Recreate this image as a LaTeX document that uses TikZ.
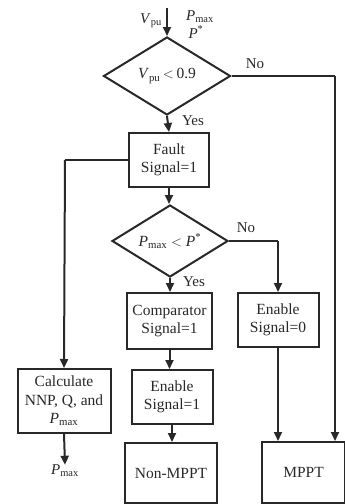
\documentclass[tikz,border=0pt]{standalone}
\usepackage{fontspec}
\setmainfont{Liberation Serif}
\usetikzlibrary{shapes.geometric,arrows.meta}
\definecolor{ink}{RGB}{40,40,40}
\tikzset{
  lin/.style={draw=ink, line width=2pt},
  arr/.style={lin, -{Triangle[length=9pt,width=8pt]}},
  box/.style={draw=ink, line width=2pt, rectangle, inner sep=0pt, align=center, text=ink,
    font=\fontsize{15.5}{18.5}\selectfont},
  dia/.style={draw=ink, line width=2pt, diamond, inner sep=0pt, aspect=1.6, text=ink,
    font=\fontsize{15.5}{18}\selectfont},
  lab/.style={text=ink, inner sep=0pt, font=\fontsize{15}{17}\selectfont}
}
\begin{document}
\begin{tikzpicture}[x=1pt,y=-1pt]
\useasboundingbox (0,0) rectangle (345,504);
\clip (0,0) rectangle (345,504);
% nodes
\coordinate (in) at (167,8);
\node[lab, anchor=east] (vpu) at (162,21) {\textit{V}\textsubscript{pu}};
\node[lab] (pmaxin) at (200,17) {\textit{P}\textsubscript{max}};
\node[lab] (pstar) at (196,32) {\textit{P}\textsuperscript{*}};
\node[dia, minimum width=127pt, minimum height=78pt] (d1) at (167,76) {\textit{V}\textsubscript{pu}\,$<$\,0.9};
\node[box, minimum width=80pt, minimum height=54pt] (fault) at (169,160) {Fault\\Signal=1};
\node[dia, minimum width=116pt, minimum height=72pt] (d2) at (170,241) {\textit{P}\textsubscript{max} $<$ \textit{P}\textsuperscript{*}};
\node[box, minimum width=85pt, minimum height=56pt] (comp) at (169.5,321) {Comparator\\Signal=1};
\node[box, minimum width=81pt, minimum height=54pt] (en0) at (278,320) {Enable\\Signal=0};
\node[box, minimum width=81pt, minimum height=54pt] (en1) at (172,397) {Enable\\Signal=1};
\node[box, minimum width=93pt, minimum height=64pt] (calc) at (64,401) {Calculate\\NNP, Q, and\\\textit{P}\textsubscript{max}};
\node[lab] (pmaxout) at (65,471) {\textit{P}\textsubscript{max}};
\node[box, minimum width=92pt, minimum height=60pt] (nonmppt) at (171,473) {Non-MPPT};
\node[box, minimum width=83pt, minimum height=61pt] (mppt) at (303.5,472.5) {MPPT};
% helper coordinates
\coordinate (c1) at (335,76);
\coordinate (c2) at (65,160);
\coordinate (c3) at (278,241);
% connectors
\draw[arr] (in) -- (d1.north);
\draw[arr] (d1.south) -- (fault.north);
\draw[lin] (d1.east) -- (c1);
\draw[arr] (c1) -- (c1 |- mppt.north);
\draw[lin] (fault.west) -- (c2);
\draw[arr] (c2) -- (calc.north);
\draw[arr] (calc.south) -- (pmaxout.north);
\draw[arr] (fault.south) -- (fault.south |- d2.north);
\draw[lin] (d2.east) -- (c3);
\draw[arr] (c3) -- (en0.north);
\draw[arr] (d2.south) -- (d2.south |- comp.north);
\draw[arr] (comp.south) -- (comp.south |- en1.north);
\draw[arr] (en1.south) -- (en1.south |- nonmppt.north);
\draw[arr] (en0.south) -- (en0.south |- mppt.north);
% edge labels
\node[lab] (no1) at (255,64) {No};
\node[lab] (yes1) at (193,121) {Yes};
\node[lab] (no2) at (246,228) {No};
\node[lab] (yes2) at (194,282) {Yes};
\end{tikzpicture}
\end{document}
